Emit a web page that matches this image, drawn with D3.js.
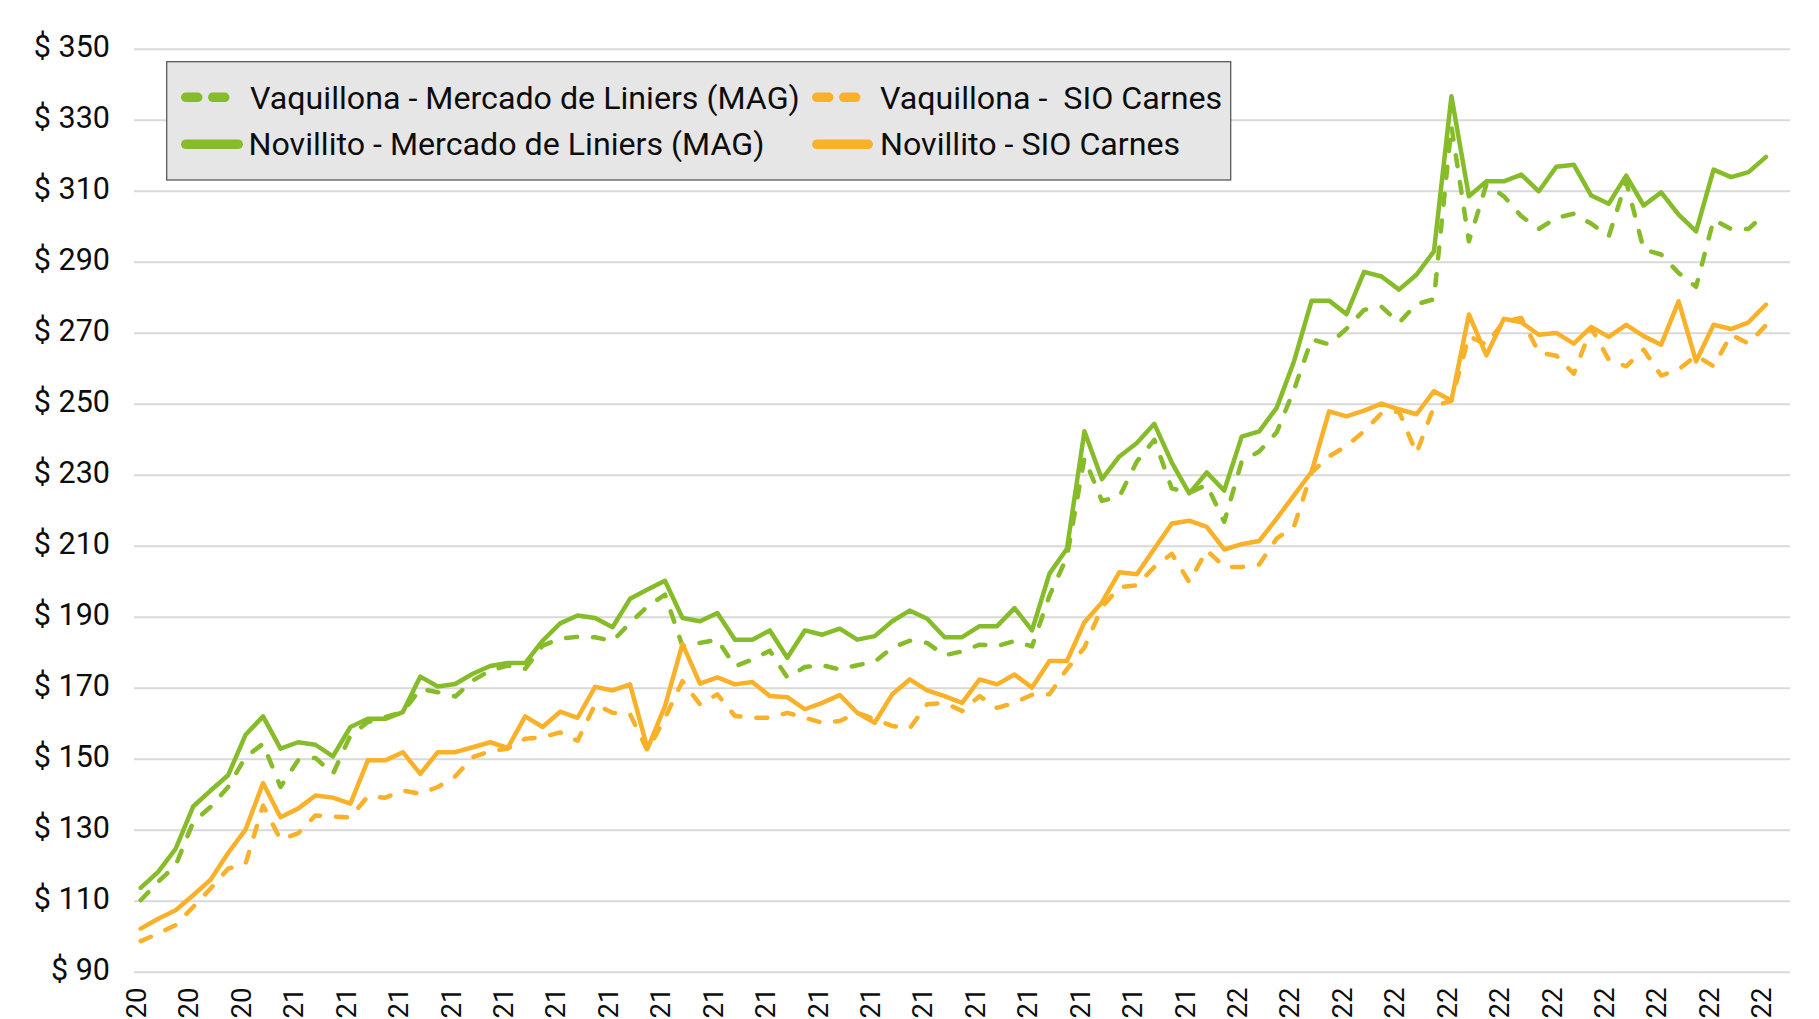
<!DOCTYPE html>
<html>
<head>
<meta charset="utf-8">
<script src="https://cdn.jsdelivr.net/npm/d3@7"></script>
<style>
  html, body { margin: 0; padding: 0; background: #ffffff; overflow: hidden; }
  svg { display: block; }
  text { font-family: Roboto, "Noto Sans", sans-serif; fill: #0d0d0d; }
</style>
</head>
<body>
<svg id="chart" width="1819" height="1019"></svg>
<script>
// ---------------- DATA ----------------
const semanas = [
  "05/11/20","12/11/20","19/11/20","26/11/20","03/12/20","10/12/20","17/12/20","24/12/20","31/12/20",
  "07/01/21","14/01/21","21/01/21","28/01/21","04/02/21","11/02/21","18/02/21","25/02/21","04/03/21",
  "11/03/21","18/03/21","25/03/21","01/04/21","08/04/21","15/04/21","22/04/21","29/04/21","06/05/21",
  "13/05/21","20/05/21","27/05/21","03/06/21","10/06/21","17/06/21","24/06/21","01/07/21","08/07/21",
  "15/07/21","22/07/21","29/07/21","05/08/21","12/08/21","19/08/21","26/08/21","02/09/21","09/09/21",
  "16/09/21","23/09/21","30/09/21","07/10/21","14/10/21","21/10/21","28/10/21","04/11/21","11/11/21",
  "18/11/21","25/11/21","02/12/21","09/12/21","16/12/21","23/12/21","30/12/21","06/01/22","13/01/22",
  "20/01/22","27/01/22","03/02/22","10/02/22","17/02/22","24/02/22","03/03/22","10/03/22","17/03/22",
  "24/03/22","31/03/22","07/04/22","14/04/22","21/04/22","28/04/22","05/05/22","12/05/22","19/05/22",
  "26/05/22","02/06/22","09/06/22","16/06/22","23/06/22","30/06/22","07/07/22","14/07/22","21/07/22",
  "28/07/22","04/08/22","11/08/22","18/08/22"
];

const vaquillonaMAG = [
  110.3,115.5,120.1,132.3,136.6,142.2,150.6,154.4,142.2,149.7,
  150.4,145.9,156.7,160.5,161.9,163.3,169.8,168.9,167.7,172.2,
  175.0,176.4,175.5,182.0,184.0,184.5,184.4,183.3,188.4,193.1,
  196.4,181.9,182.8,183.7,176.2,178.1,180.6,173.0,176.0,176.5,
  175.3,176.5,177.5,181.4,183.4,182.8,179.3,180.4,182.3,181.9,
  183.3,181.8,196.1,207.0,234.8,222.8,224.0,233.9,240.0,226.3,
  225.1,227.3,216.9,233.9,236.7,242.1,254.2,268.3,266.9,271.3,
  276.6,277.5,273.0,278.2,279.6,328.3,295.9,311.9,308.6,303.0,
  299.4,302.5,303.7,300.9,297.3,312.8,293.6,292.2,287.0,283.1,
  302.0,299.4,299.4,303.9
];

const novillitoMAG = [
  113.8,118.3,124.8,136.7,141.2,145.5,156.9,162.1,153.0,154.8,
  154.1,150.8,159.1,161.4,161.4,163.3,173.3,170.5,171.2,174.1,
  176.3,177.1,177.1,183.4,188.3,190.5,189.8,187.2,195.2,197.8,
  200.3,189.8,188.9,191.2,183.7,183.7,186.3,178.6,186.3,185.1,
  186.8,183.7,184.7,188.9,191.9,189.6,184.4,184.4,187.5,187.5,
  192.6,186.3,202.3,209.3,242.4,228.9,235.3,239.1,244.5,233.6,
  224.9,230.8,225.7,240.9,242.4,249.0,262.2,279.2,279.2,275.4,
  287.3,286.0,282.3,286.5,293.1,336.8,308.6,312.8,312.8,314.7,
  310.0,316.9,317.5,308.8,306.5,314.4,306.0,309.7,303.4,298.7,
  316.1,314.0,315.4,319.7
];

const vaquillonaSIO = [
  98.8,100.9,103.3,108.4,113.6,119.2,120.6,137.0,127.4,129.1,
  134.2,133.9,133.6,139.6,139.2,141.2,140.3,142.2,145.2,150.6,
  152.3,153.0,155.8,156.2,157.6,155.2,165.5,163.1,162.7,152.4,
  161.7,172.0,165.5,168.3,162.2,161.7,161.7,163.1,161.7,160.3,
  160.8,163.1,161.3,159.4,158.7,165.5,165.9,163.6,167.8,164.5,
  165.9,168.2,168.3,175.4,181.5,192.8,198.5,199.0,204.2,207.9,
  199.9,208.9,204.2,204.2,204.9,212.2,215.7,230.8,235.3,238.3,
  242.4,247.5,248.0,236.2,249.4,251.0,269.2,266.8,273.4,274.3,
  264.6,263.7,258.6,271.5,262.6,260.7,265.4,258.1,259.8,263.7,
  260.7,269.6,267.1,272.3
];

const novillitoSIO = [
  102.3,105.1,107.5,111.7,116.1,123.6,130.2,143.3,133.7,136.1,
  139.8,139.2,137.5,149.7,149.7,152.0,145.9,152.0,152.0,153.4,
  154.8,153.2,162.1,159.1,163.4,161.7,170.4,169.4,171.1,153.0,
  165.0,182.5,171.3,173.1,171.1,171.8,167.8,167.5,164.1,165.9,
  168.1,163.1,160.3,168.3,172.5,169.4,167.8,165.9,172.5,171.1,
  173.9,170.2,177.7,177.7,188.6,194.2,202.7,202.1,209.3,216.4,
  217.2,215.5,209.1,210.6,211.5,217.8,224.4,231.0,248.0,246.6,
  248.2,250.2,248.6,247.2,253.7,251.1,275.3,263.8,274.1,273.1,
  269.6,270.1,267.1,271.8,269.0,272.4,269.2,266.8,279.0,262.1,
  272.4,271.2,273.1,278.1
];

const yTicks = [90, 110, 130, 150, 170, 190, 210, 230, 250, 270, 290, 310, 330, 350];
const xTickEvery = 3;

const seriesNames = [
  "Vaquillona - Mercado de Liniers (MAG)",
  "Novillito - Mercado de Liniers (MAG)",
  "Vaquillona -  SIO Carnes",
  "Novillito - SIO Carnes"
];
const seriesColors = ["#86bc29", "#86bc29", "#f9b12a", "#f9b12a"];
const seriesDashed = [true, false, true, false];
const seriesValues = [vaquillonaMAG, novillitoMAG, vaquillonaSIO, novillitoSIO];

// ---------------- CHART ----------------
const svg = d3.select("#chart");
const plotLeft = 134, plotRight = 1790;

const y = d3.scaleLinear().domain([90, 350]).range([972.3, 49.3]);
const x = d3.scalePoint().domain(semanas).range([140.7, 1766]);

// gridlines
svg.append("g").selectAll("line").data(yTicks).join("line")
  .attr("x1", plotLeft).attr("x2", plotRight)
  .attr("y1", d => y(d)).attr("y2", d => y(d))
  .attr("stroke", "#d9d9d9").attr("stroke-width", 2);

// y axis labels
const yAxis = d3.axisLeft(y).tickValues(yTicks).tickSize(0).tickPadding(0)
  .tickFormat(d => "$ " + d);
const gy = svg.append("g").attr("transform", "translate(110,0)").call(yAxis);
gy.select(".domain").remove();
gy.selectAll("text")
  .attr("font-family", "Roboto, sans-serif")
  .attr("font-size", 30.5)
  .attr("fill", "#0d0d0d")
  .attr("dy", null)
  .attr("y", 7.4)
  .attr("x", 0)
  .attr("text-anchor", "end");

// x axis labels (rotated; only the two-digit year fits inside the picture)
const xAxis = d3.axisBottom(x)
  .tickValues(semanas.filter((d, i) => i % xTickEvery === 0))
  .tickFormat(d => d.slice(-2))
  .tickSize(0).tickPadding(0);
const gx = svg.append("g").call(xAxis);
gx.select(".domain").remove();
gx.selectAll(".tick").attr("transform", d => `translate(${x(d) + 5.3},987.6)`);
gx.selectAll(".tick text")
  .attr("transform", "rotate(-90)")
  .attr("x", 0).attr("y", 0).attr("dy", null)
  .attr("text-anchor", "end")
  .attr("font-family", "Roboto, sans-serif")
  .attr("font-size", 27.5)
  .attr("fill", "#0d0d0d");

// lines
const line = d3.line()
  .x((d, i) => x(semanas[i]))
  .y(d => y(d));

seriesValues.forEach((vals, k) => {
  svg.append("path")
    .datum(vals)
    .attr("d", line)
    .attr("fill", "none")
    .attr("stroke", seriesColors[k])
    .attr("stroke-width", 4.5)
    .attr("stroke-linejoin", "round")
    .attr("stroke-linecap", "round")
    .attr("stroke-dasharray", seriesDashed[k] ? "11,16" : null);
});

// legend
const lg = svg.append("g");
lg.append("rect")
  .attr("x", 166.7).attr("y", 61.7)
  .attr("width", 1064).attr("height", 118.3)
  .attr("fill", "#e6e6e6")
  .attr("stroke", "#595959")
  .attr("stroke-width", 1.3);

const legendPos = [
  { sx: 181, ex: 243, ty: 108.5, ly: 97.3, tx: 250 },
  { sx: 181, ex: 243, ty: 155,   ly: 144.3, tx: 248.5 },
  { sx: 812, ex: 873, ty: 108.5, ly: 97.3, tx: 880 },
  { sx: 812, ex: 873, ty: 155,   ly: 144.3, tx: 880 }
];
const lw = 9.5;
seriesNames.forEach((name, k) => {
  const p = legendPos[k];
  lg.append("line")
    .attr("x1", p.sx + lw / 2).attr("x2", p.ex - lw / 2)
    .attr("y1", p.ly).attr("y2", p.ly)
    .attr("stroke", seriesColors[k])
    .attr("stroke-width", lw)
    .attr("stroke-linecap", "round")
    .attr("stroke-dasharray", seriesDashed[k] ? "12,15" : null);
  lg.append("text")
    .attr("x", p.tx).attr("y", p.ty)
    .attr("font-size", 32.2)
    .attr("xml:space", "preserve")
    .style("white-space", "pre")
    .text(name);
});
</script>
</body>
</html>
